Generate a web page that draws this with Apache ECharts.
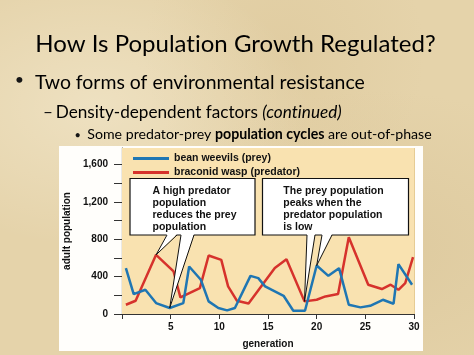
<!DOCTYPE html>
<html>
<head>
<meta charset="utf-8">
<script src="https://cdn.jsdelivr.net/npm/echarts@6/dist/echarts.min.js"></script>
<style>
html,body{margin:0;padding:0;}
#c{width:474px;height:355px;
background:
 radial-gradient(ellipse at 20% 30%, rgba(255,250,235,0.35), rgba(255,250,235,0) 40%),
 radial-gradient(ellipse at 80% 70%, rgba(200,175,125,0.25), rgba(200,175,125,0) 45%),
 radial-gradient(ellipse at 60% 15%, rgba(210,185,135,0.25), rgba(210,185,135,0) 35%),
 #e5d3aa;}
</style>
</head>
<body>
<div id="c"></div>
<script>
// ---- data ----
const preyGen = [0.4, 1.2, 2.4, 3.5, 4.9, 6.3, 6.9, 8.1, 8.9, 9.9, 10.8, 11.6, 13.2, 14.0, 14.7, 16.6, 17.6, 18.8, 20.0, 21.2, 22.3, 23.3, 24.5, 25.5, 26.8, 27.9, 28.4, 29.8];
const preyVal = [490, 213, 259, 117, 64, 117, 508, 366, 135, 64, 39, 64, 408, 384, 295, 195, 35, 35, 518, 408, 490, 99, 71, 88, 152, 110, 533, 313];
const predGen = [0.4, 1.4, 3.5, 5.3, 6.0, 8.0, 8.9, 10.2, 10.9, 11.8, 13.0, 15.7, 16.9, 18.75, 20.0, 20.9, 22.2, 23.3, 25.3, 26.7, 27.6, 28.4, 29.1, 29.9];
const predVal = [99, 142, 633, 455, 178, 277, 625, 579, 295, 142, 113, 491, 586, 135, 152, 188, 213, 821, 313, 267, 313, 259, 331, 608];
const seriesNames = ['bean weevils (prey)', 'braconid wasp (predator)'];
const xTicks = [5, 10, 15, 20, 25, 30];
const yTickLabels = [0, 400, 800, 1200, 1600];
const note1 = ['A high predator', 'population', 'reduces the prey', 'population'];
const note2 = ['The prey population', 'peaks when the', 'predator population', 'is low'];
const titleText = 'How Is Population Growth Regulated?';
const bullet1 = 'Two forms of environmental resistance';
const bullet2 = ['Density-dependent factors ', '(continued)'];
const bullet3 = ['Some predator-prey ', 'population cycles', ' are out-of-phase'];

const BLUE = '#1f76b3', RED = '#d6322c';
const SF = 'Lato';
const CF = '"Liberation Sans", Arial, sans-serif';
const INK = '#151515';

const cv = document.createElement('canvas').getContext('2d');
function mw(t, size, weight, style) { cv.font = (style||'normal') + ' ' + (weight||'normal') + ' ' + size + 'px ' + SF; return cv.measureText(t).width; }
function fit(parts, target) { let s = 0; parts.forEach(p => s += mw(p[0], 100, p[1], p[2])); return target / s * 100; }
// split segments at "ti" so the font's ligature is not used (each rich segment is drawn separately)
function seg(text, key) { return '{' + key + '|' + text.split('ti').join('t}{' + key + '|i') + '}'; }

const chart = echarts.init(document.getElementById('c'), null, {renderer: 'canvas'});

const option = {
  backgroundColor: 'transparent',
  animation: false,
  grid: {left: 122, right: 60, top: 148, bottom: 41, show: true, backgroundColor: '#f9e2b0', borderWidth: 0, z: 1},
  legend: {
    orient: 'vertical', left: 128, top: 148, itemWidth: 36, itemHeight: 3, itemGap: 3,
    icon: 'rect',
    data: seriesNames,
    textStyle: {fontFamily: CF, fontWeight: 'bold', fontSize: 10.5, color: '#111'},
    z: 20
  },
  xAxis: {
    type: 'value', min: 0, max: 30, interval: 5,
    name: 'generation', nameLocation: 'middle', nameGap: 25,
    nameTextStyle: {fontFamily: CF, fontWeight: 'bold', fontSize: 10, color: '#111'},
    axisLine: {show: true, lineStyle: {color: '#333', width: 1.2}},
    axisTick: {show: true, length: 5, lineStyle: {color: '#333'}},
    axisLabel: {show: true, margin: 8, fontFamily: CF, fontWeight: 'bold', fontSize: 10, color: '#111',
      formatter: v => xTicks.indexOf(v) >= 0 ? String(v) : ''},
    splitLine: {show: true, lineStyle: {color: '#e6cc94', width: 1}}
  },
  yAxis: {
    type: 'value', min: 0, max: 1775, interval: 200,
    name: 'adult population', nameLocation: 'middle', nameGap: 49,
    nameTextStyle: {fontFamily: CF, fontWeight: 'bold', fontSize: 10, color: '#111'},
    axisLine: {show: true, lineStyle: {color: '#333', width: 1.2}},
    axisTick: {show: true, length: 8, lineStyle: {color: '#333'}},
    axisLabel: {show: true, margin: 14, fontFamily: CF, fontWeight: 'bold', fontSize: 10, color: '#111',
      showMaxLabel: false,
      formatter: v => yTickLabels.indexOf(v) >= 0 ? v.toLocaleString('en-US') : ''},
    splitLine: {show: true, lineStyle: {color: '#e6cc94', width: 1}}
  },
  series: [
    {name: seriesNames[0], type: 'line', symbol: 'none', z: 5,
     data: preyGen.map((g, i) => [g, preyVal[i]]), lineStyle: {color: BLUE, width: 2.5}, itemStyle: {color: BLUE}},
    {name: seriesNames[1], type: 'line', symbol: 'none', z: 4,
     data: predGen.map((g, i) => [g, predVal[i]]), lineStyle: {color: RED, width: 2.5}, itemStyle: {color: RED}}
  ]
};
chart.setOption(option);

// pointer tips from data marks
const tipPredPeak = chart.convertToPixel({gridIndex: 0}, [predGen[2], predVal[2]]);
const tipPreyLow = chart.convertToPixel({gridIndex: 0}, [preyGen[4], preyVal[4]]);
const tipPredLow = chart.convertToPixel({gridIndex: 0}, [predGen[13], predVal[13]]);
const tipPreyPeak = chart.convertToPixel({gridIndex: 0}, [preyGen[18], preyVal[18]]);

function wedge(bx1, bx2, by, tip) {
  return [
    {type: 'polygon', z: 101, shape: {points: [[bx1, by - 1], [bx2, by - 1], tip]}, style: {fill: '#fff', stroke: null}},
    {type: 'polyline', z: 102, shape: {points: [[bx1, by], tip, [bx2, by]]}, style: {stroke: '#111', lineWidth: 1, fill: null}}
  ];
}
function box(x, y, w, h, lines, tx) {
  return [
    {type: 'rect', z: 100, shape: {x: x, y: y, width: w, height: h}, style: {fill: '#fff', stroke: '#111', lineWidth: 1.2}},
    {type: 'text', z: 103, x: tx, y: y + 7, style: {text: lines.join('\n'), fill: '#111',
      font: 'bold 10.5px ' + CF, lineHeight: 12, align: 'left', verticalAlign: 'top'}}
  ];
}

// slide text
const tSize = fit([[titleText]], 401);
const b1Size = fit([[bullet1]], 330);
const b2Size = fit([[bullet2[0]], [bullet2[1], 'normal', 'italic']], 286);
const b3Size = fit([[bullet3[0]], [bullet3[1], 'bold'], [bullet3[2]]], 345);
const mid = 0.39;
function rs(size) {
  return {n: {fontFamily: SF, fontSize: size, color: INK},
          i: {fontFamily: SF, fontSize: size, fontStyle: 'italic', color: INK},
          b: {fontFamily: SF, fontSize: size, fontWeight: 'bold', color: INK}};
}

const g = [
  {type: 'rect', z: -5, shape: {x: 59, y: 146, width: 364, height: 205}, style: {fill: '#fffefb'}},
  {type: 'text', x: 235.5, y: 53.3 - mid * tSize, style: {text: seg(titleText, 'n'), rich: rs(tSize), align: 'center', verticalAlign: 'middle'}},
  {type: 'text', x: 19.5, y: 80, style: {text: '•', fill: INK, font: '16px ' + SF, align: 'center', verticalAlign: 'middle'}},
  {type: 'text', x: 35, y: 90 - mid * b1Size, style: {text: seg(bullet1, 'n'), rich: rs(b1Size), align: 'left', verticalAlign: 'middle'}},
  {type: 'text', x: 43, y: 119 - mid * b2Size, style: {text: '–', fill: INK, font: b2Size + 'px ' + SF, align: 'left', verticalAlign: 'middle'}},
  {type: 'text', x: 55.7, y: 119 - mid * b2Size, style: {
    text: seg(bullet2[0], 'n') + seg(bullet2[1], 'i'), align: 'left', verticalAlign: 'middle', rich: rs(b2Size)}},
  {type: 'text', x: 77.7, y: 135, style: {text: '•', fill: INK, font: '11px ' + SF, align: 'center', verticalAlign: 'middle'}},
  {type: 'text', x: 87.3, y: 140 - mid * b3Size, style: {
    text: seg(bullet3[0], 'n') + seg(bullet3[1], 'b') + seg(bullet3[2], 'n'), align: 'left', verticalAlign: 'middle', rich: rs(b3Size)}}
]
.concat(box(130, 178.5, 125, 56.5, note1, 152.5))
.concat(box(262.5, 178.5, 146, 56.5, note2, 283.3))
.concat(wedge(167, 177, 235, tipPredPeak))
.concat(wedge(181, 194, 235, tipPreyLow))
.concat(wedge(307, 315, 235, tipPredLow))
.concat(wedge(322, 332, 235, tipPreyPeak));

chart.setOption({graphic: {elements: g}});
</script>
</body>
</html>
